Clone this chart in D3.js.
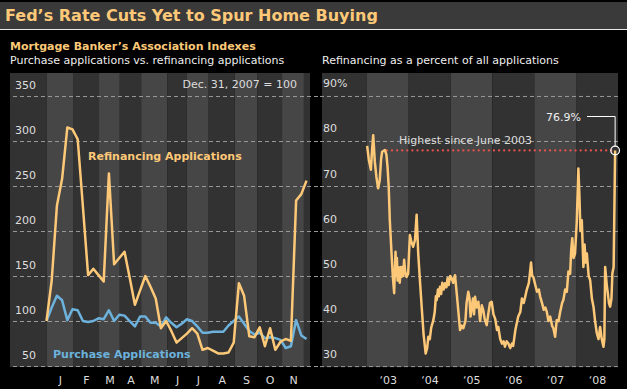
<!DOCTYPE html>
<html>
<head>
<meta charset="utf-8">
<script src="https://cdn.jsdelivr.net/npm/d3@7"></script>
<style>
 body { margin: 0; background: #000; }
 svg { display: block; }
 text { font-family: "DejaVu Sans", Verdana, sans-serif; }
</style>
</head>
<body>
<svg id="chart"></svg>
<script>
 // ---- data ----
 // left panel: weekly index, Dec. 31 2007 = 100 (week 0)
 let refiIndex = [100,145,228,258,315,313,302,227,151,158,151,144,264,163,170,177,148,118,134,150,
                  138,125,92,100,89,76,81,86,92,86,68,70,67,64,64,65,76,142,128,83,
                  82,93,72,92,68,77,80,78,234,241,256]
 let purchaseIndex = [100,115,128,123,101,113,112,100,99,100,103,102,112,100,107,106,100,94,105,105,
                      98,98,94,104,98,93,97,102,100,94,87,87,88,88,88,95,100,105,97,89,
                      85,87,81,82,81,79,70,72,101,84,80]
 let months = ["J","F","M","A","M","J","J","A","S","O","N","D"]
 // week position where each month band starts
 let monthStart = [0,5.1,10.1,14.1,18.2,23.2,27,31.2,36.2,40.5,45.3,49.5]
 let leftTicks = [50,100,150,200,250,300,350]

 // right panel: refinancing share of all applications, % (date, value)
 let shareDates = [
   "2003-01-03","2003-01-18","2003-02-05","2003-02-15","2003-02-25","2003-03-11","2003-03-25","2003-04-09",
   "2003-04-23","2003-05-05","2003-05-14","2003-06-07","2003-06-20","2003-06-30","2003-07-10","2003-07-20",
   "2003-08-04","2003-08-15","2003-08-27","2003-09-03","2003-09-08","2003-09-14","2003-09-20","2003-09-26",
   "2003-10-01","2003-10-08","2003-10-15","2003-10-22","2003-10-30","2003-11-07","2003-11-14","2003-11-22",
   "2003-12-01","2003-12-13","2003-12-27",
   "2004-01-11","2004-01-25","2004-02-09","2004-02-25","2004-03-10","2004-03-24","2004-04-08","2004-04-23",
   "2004-05-10","2004-05-28","2004-06-10","2004-06-20","2004-07-03","2004-07-15","2004-08-03","2004-08-15",
   "2004-08-25","2004-09-02","2004-09-12","2004-09-20","2004-09-30","2004-10-10","2004-10-20","2004-11-01",
   "2004-11-13","2004-11-25","2004-12-05","2004-12-15","2004-12-28",
   "2005-01-10","2005-01-24","2005-02-08","2005-02-23","2005-03-10","2005-03-24","2005-04-08","2005-04-22",
   "2005-05-10","2005-05-20","2005-06-04","2005-06-15","2005-06-24","2005-07-04","2005-07-15","2005-07-24",
   "2005-08-02","2005-08-15","2005-08-31","2005-09-15","2005-09-30","2005-10-13","2005-10-25","2005-11-12",
   "2005-11-25","2005-12-10","2005-12-25",
   "2006-01-10","2006-01-25","2006-02-10","2006-02-21","2006-03-10","2006-03-25","2006-04-08","2006-04-20",
   "2006-05-05","2006-05-20","2006-06-05","2006-06-20","2006-07-01","2006-07-20","2006-08-14","2006-09-01",
   "2006-09-15","2006-10-01","2006-10-12","2006-10-28","2006-11-15","2006-12-04","2006-12-14","2006-12-24",
   "2007-01-10","2007-01-25","2007-02-10","2007-02-21","2007-03-10","2007-03-25","2007-04-08","2007-04-20",
   "2007-05-05","2007-05-20","2007-06-05","2007-06-17","2007-07-02","2007-07-16","2007-08-01","2007-08-15",
   "2007-09-01","2007-09-12","2007-09-28","2007-10-12","2007-10-26","2007-11-10","2007-11-20","2007-11-29",
   "2007-12-10","2007-12-23",
   "2008-01-07","2008-01-21","2008-01-30","2008-02-08","2008-02-20","2008-03-05","2008-03-15","2008-03-25",
   "2008-04-04","2008-04-20","2008-05-03","2008-05-18","2008-06-01","2008-06-15","2008-06-30","2008-07-15",
   "2008-07-29","2008-08-12","2008-08-27","2008-09-04","2008-09-11","2008-09-25","2008-10-04","2008-10-14",
   "2008-10-24","2008-11-05","2008-11-13","2008-11-24","2008-12-07"]
 let shareValues = [
   78.9,75.8,73.6,78,81.3,75.4,72,69.5,
   71.3,76,77.6,78,77,74.3,70,62.4,
   55,50,46.2,52,55.4,50,54,49,
   52,50.5,48.5,52,49.8,52,50,53.6,
   51,49.8,50.5,
   59.1,57.5,56.5,58,63.6,55,49,43.2,
   37,32.8,34,36.5,36,38.5,40.2,42,
   45.5,44.7,47,45.5,47.6,46,48.5,47,
   48.4,47.5,49.5,48,50,
   49.5,48.5,50.2,46.2,42,38,39,38.4,
   40,44,46.5,45,41,43.2,45,41.5,
   45.4,43,44.3,40,43.5,42.4,40.5,39.1,
   41.5,44,44.3,
   41.5,40.5,38,38.7,36,35,35.5,34.3,
   35.5,35,34,35,34.5,38,41,42,
   45,44,45.2,47,48.5,53,50,49.8,
   48,46.5,47,45.5,44,42.5,43,42.1,
   40,41,39,38.4,36.5,40.2,40,42,
   44,44.7,47,46.5,51,50.5,56,58.4,
   54,55,
   62,73.9,68,60,62.4,52,57,53,
   55,50,49.1,45,43.2,40,37.3,36,
   38.7,36,34.3,36,52,48,46.2,44,
   43.2,45,50.6,52,77.9]
 let years = [2003,2004,2005,2006,2007,2008]
 let rightTicks = [30,40,50,60,70,80,90]
 let highSince = "2003-06-24"

 const orange = "#fdc978", blue = "#6cb2dc", darkBand = "#323232", lightBand = "#464646"
 width = 627
 height = 389
 var svg = d3.select("#chart").attr("width", width).attr("height", height)
 svg.append("rect").attr("width", width).attr("height", height).attr("fill", "#000")

 // title bar
 svg.append("rect").attr("x", 0).attr("y", 2).attr("width", width).attr("height", 27).attr("fill", "#3a3a3a")
 svg.append("line").attr("x1", 0).attr("x2", width).attr("y1", 29.5).attr("y2", 29.5)
    .attr("stroke", "#e8e8e8").attr("stroke-width", 1)
 svg.append("text").attr("x", 5).attr("y", 21).attr("fill", orange)
    .attr("font-size", 16).attr("font-weight", "bold").text("Fed’s Rate Cuts Yet to Spur Home Buying")

 svg.append("text").attr("x", 10).attr("y", 49.5).attr("fill", orange).attr("font-size", 11)
    .attr("font-weight", "bold").text("Mortgage Banker’s Association Indexes")
 svg.append("text").attr("x", 10).attr("y", 64).attr("fill", "#eee").attr("font-size", 11)
    .text("Purchase applications vs. refinancing applications")
 svg.append("text").attr("x", 322).attr("y", 64).attr("fill", "#eee").attr("font-size", 11)
    .text("Refinancing as a percent of all applications")

 const plotTop = 73, plotBottom = 367

 // ---------- left panel ----------
 var xL = d3.scaleLinear().domain([-7.02, 50.67]).range([10, 310])
 var yL = d3.scaleLinear().domain([48.9, 375.6]).range([plotBottom, plotTop])

 var lp = svg.append("g").attr("class", "left")
 var bandsL = [xL.domain()[0]].concat(monthStart)
 lp.selectAll("rect.band").data(bandsL).enter().append("rect")
    .attr("class", "band")
    .attr("x", d => xL(d))
    .attr("width", (d, i) => xL(i + 1 < bandsL.length ? bandsL[i + 1] : xL.domain()[1]) - xL(d))
    .attr("y", plotTop).attr("height", plotBottom - plotTop)
    .attr("fill", (d, i) => i % 2 ? lightBand : darkBand)

 // gridlines + labels via axis
 var gl = lp.append("g").attr("transform", "translate(318,0)")
    .call(d3.axisLeft(yL).tickValues(leftTicks).tickSize(308).tickFormat(d3.format("d")))
 gl.select(".domain").remove()
 gl.selectAll("line").attr("stroke", "#9a9a9a").attr("stroke-dasharray", "4,3")
 gl.selectAll("text").attr("x", -282).attr("dy", -8).attr("fill", "#ddd")
    .attr("font-size", 11).attr("font-family", null)

 var centers = monthStart.slice(0, 11).map((d, i) => (d + monthStart[i + 1]) / 2)
 var mx = lp.append("g").attr("transform", `translate(0,${plotBottom})`)
    .call(d3.axisBottom(xL).tickValues(centers).tickSize(0).tickFormat((d, i) => months[i]))
 mx.select(".domain").remove()
 mx.selectAll("text").attr("dy", 14).attr("fill", "#ddd").attr("font-size", 11).attr("font-family", null)

 var line = d3.line().x((d, i) => xL(i)).y(d => yL(d))
 lp.append("path").datum(purchaseIndex).attr("d", line)
    .attr("fill", "none").attr("stroke", blue).attr("stroke-width", 2.5).attr("stroke-linejoin", "round")
 lp.append("path").datum(refiIndex).attr("d", line)
    .attr("fill", "none").attr("stroke", orange).attr("stroke-width", 2.5).attr("stroke-linejoin", "round")

 lp.append("text").attr("x", 297).attr("y", 88).attr("text-anchor", "end").attr("fill", "#ddd")
    .attr("font-size", 11).text("Dec. 31, 2007 = 100")
 lp.append("text").attr("x", 88).attr("y", 160).attr("fill", orange).attr("font-size", 11)
    .attr("font-weight", "bold").text("Refinancing Applications")
 lp.append("text").attr("x", 53).attr("y", 358).attr("fill", blue).attr("font-size", 11)
    .attr("font-weight", "bold").text("Purchase Applications")

 // ---------- right panel ----------
 var parse = d3.timeParse("%Y-%m-%d")
 var share = shareDates.map((d, i) => ({date: parse(d), v: shareValues[i]}))
 var xR = d3.scaleTime().domain([new Date(2001, 11, 5), new Date(2009, 0, 1)]).range([322, 618])
 var yR = d3.scaleLinear().domain([29.8, 95.1]).range([plotBottom, plotTop])

 var rp = svg.append("g").attr("class", "right")
 var bandsR = [xR.domain()[0]].concat(years.map(y => new Date(y, 0, 1)))
 rp.selectAll("rect.band").data(bandsR).enter().append("rect")
    .attr("class", "band")
    .attr("x", d => xR(d))
    .attr("width", (d, i) => xR(i + 1 < bandsR.length ? bandsR[i + 1] : xR.domain()[1]) - xR(d))
    .attr("y", plotTop).attr("height", plotBottom - plotTop)
    .attr("fill", (d, i) => i % 2 ? lightBand : darkBand)

 var gr = rp.append("g").attr("transform", "translate(618,0)")
    .call(d3.axisLeft(yR).tickValues(rightTicks).tickSize(302).tickFormat(d => d == 90 ? d + "%" : d))
 gr.select(".domain").remove()
 gr.selectAll("line").attr("stroke", "#9a9a9a").attr("stroke-dasharray", "4,3")
 gr.selectAll("text").attr("x", -295).attr("dy", -9).attr("text-anchor", "start").attr("fill", "#ddd")
    .attr("font-size", 11).attr("font-family", null)

 var yx = rp.append("g").attr("transform", `translate(0,${plotBottom})`)
    .call(d3.axisBottom(xR).tickValues(years.map(y => new Date(y, 6, 1))).tickSize(0)
       .tickFormat(d => "‘" + d3.timeFormat("%y")(d)))
 yx.select(".domain").remove()
 yx.selectAll("text").attr("dy", 14).attr("fill", "#ddd").attr("font-size", 11).attr("font-family", null)

 var last = share[share.length - 1]
 rp.append("line")
    .attr("x1", xR(parse(highSince))).attr("x2", xR(last.date))
    .attr("y1", yR(last.v)).attr("y2", yR(last.v))
    .attr("stroke", "#e8524c").attr("stroke-width", 2.2)
    .attr("stroke-dasharray", "0.1,5").attr("stroke-linecap", "round")
 rp.append("text").attr("x", 399).attr("y", 144).attr("fill", "#ddd").attr("font-size", 11)
    .text("Highest since June 2003")

 rp.append("path").datum(share)
    .attr("d", d3.line().x(d => xR(d.date)).y(d => yR(d.v)))
    .attr("fill", "none").attr("stroke", orange).attr("stroke-width", 2.5).attr("stroke-linejoin", "round")

 rp.append("circle").attr("cx", xR(last.date)).attr("cy", yR(last.v)).attr("r", 4.3)
    .attr("fill", "none").attr("stroke", "#fff").attr("stroke-width", 1.3)
 rp.append("path")
    .attr("d", `M587,116.5H${xR(last.date)}V${yR(last.v) - 4.3}`)
    .attr("fill", "none").attr("stroke", "#fff").attr("stroke-width", 1)
 rp.append("text").attr("x", 581).attr("y", 121).attr("text-anchor", "end").attr("fill", "#eee")
    .attr("font-size", 11).text("76.9%")
</script>
</body>
</html>
